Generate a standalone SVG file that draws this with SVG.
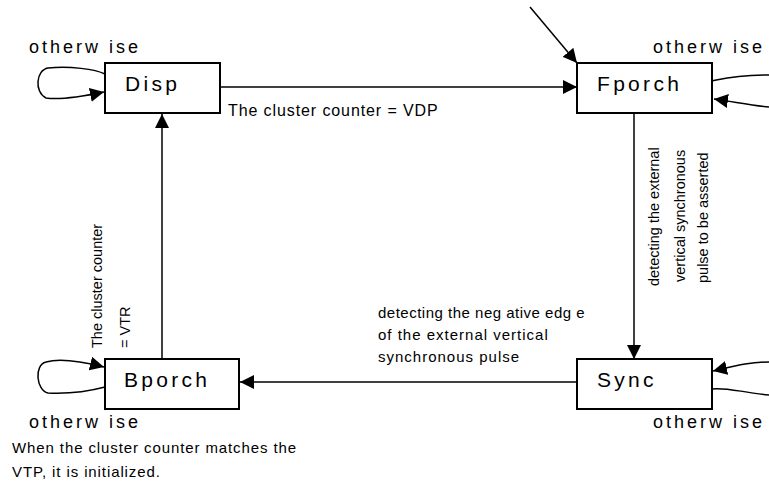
<svg xmlns="http://www.w3.org/2000/svg" width="769" height="484" viewBox="0 0 769 484">
<style>
  text { font-family: "Liberation Sans", Arial, sans-serif; fill: #000; }
  .box { fill: #fff; stroke: #000; stroke-width: 2; }
  .title { font-size: 21px; letter-spacing: 3.3px; }
  .other { font-size: 18px; letter-spacing: 3px; }
  .lbl { font-size: 15px; letter-spacing: 1px; }
  .vl { font-size: 14.5px; }
  .edge { fill: none; stroke: #000; stroke-width: 1.5; }
</style>
<defs>
  <marker id="arr" markerUnits="userSpaceOnUse" markerWidth="15" markerHeight="14" refX="14" refY="7" orient="auto">
    <path d="M0,0 L14,7 L0,14 Z" fill="#000"/>
  </marker>
</defs>

<g id="connectors">
  <line class="edge" x1="530" y1="7" x2="577" y2="63" marker-end="url(#arr)"/>
  <line class="edge" x1="220" y1="87" x2="577" y2="87" marker-end="url(#arr)"/>
  <line class="edge" x1="634" y1="113" x2="634" y2="359" marker-end="url(#arr)"/>
  <line class="edge" x1="577" y1="382" x2="240" y2="382" marker-end="url(#arr)"/>
  <line class="edge" x1="162" y1="359" x2="162" y2="114" marker-end="url(#arr)"/>
  <path class="edge" d="M105,74 C95,69 70,66 48,68 C36,70 34,92 46,98 C60,100 80,97 104,92" marker-end="url(#arr)"/>
  <path class="edge" d="M712,81 C722,79 735,75 769,75"/>
  <path class="edge" d="M769,107 C755,106 735,102 714,99" marker-end="url(#arr)"/>
  <path class="edge" d="M105,387 C90,391 70,394 48,393 C36,390 34,365 46,362 C60,358 80,361 104,367" marker-end="url(#arr)"/>
  <path class="edge" d="M769,362 C750,362 735,366 713,371" marker-end="url(#arr)"/>
  <path class="edge" d="M712,389 C725,387 740,392 769,395"/>
</g>

<g id="Disp">
  <rect class="box" x="105" y="63" width="115" height="50"/>
  <text class="title" x="125" y="91">Disp</text>
</g>
<g id="Fporch">
  <rect class="box" x="577" y="63" width="135" height="50"/>
  <text class="title" x="597" y="91">Fporch</text>
</g>
<g id="Bporch">
  <rect class="box" x="105" y="359" width="134" height="50"/>
  <text class="title" x="124" y="387">Bporch</text>
</g>
<g id="Sync">
  <rect class="box" x="577" y="359" width="135" height="50"/>
  <text class="title" x="597" y="387">Sync</text>
</g>

<g id="labels">
  <text class="other" x="29" y="53">otherw ise</text>
  <text class="other" x="653" y="53">otherw ise</text>
  <text class="other" x="29" y="428">otherw ise</text>
  <text class="other" x="653" y="428">otherw ise</text>
  <text class="lbl" x="228" y="116" style="font-size:16px;letter-spacing:0.9px">The cluster counter = VDP</text>
  <text class="lbl" x="378" y="318" style="letter-spacing:0.5px">detecting the neg ative edg e</text>
  <text class="lbl" x="378" y="340">of the external vertical</text>
  <text class="lbl" x="378" y="362">synchronous pulse</text>
  <text class="lbl" x="12" y="453" style="letter-spacing:0.9px">When the cluster counter matches the</text>
  <text class="lbl" x="12" y="477" style="letter-spacing:0.9px">VTP, it is initialized.</text>
  <text class="vl" transform="translate(659,286) rotate(-90)">detecting the external</text>
  <text class="vl" transform="translate(685,282) rotate(-90)">vertical synchronous</text>
  <text class="vl" transform="translate(708,283) rotate(-90)">pulse to be asserted</text>
  <text class="vl" transform="translate(101.5,348) rotate(-90)">The cluster counter</text>
  <text class="vl" transform="translate(130,348) rotate(-90)">= VTR</text>
</g>
</svg>
